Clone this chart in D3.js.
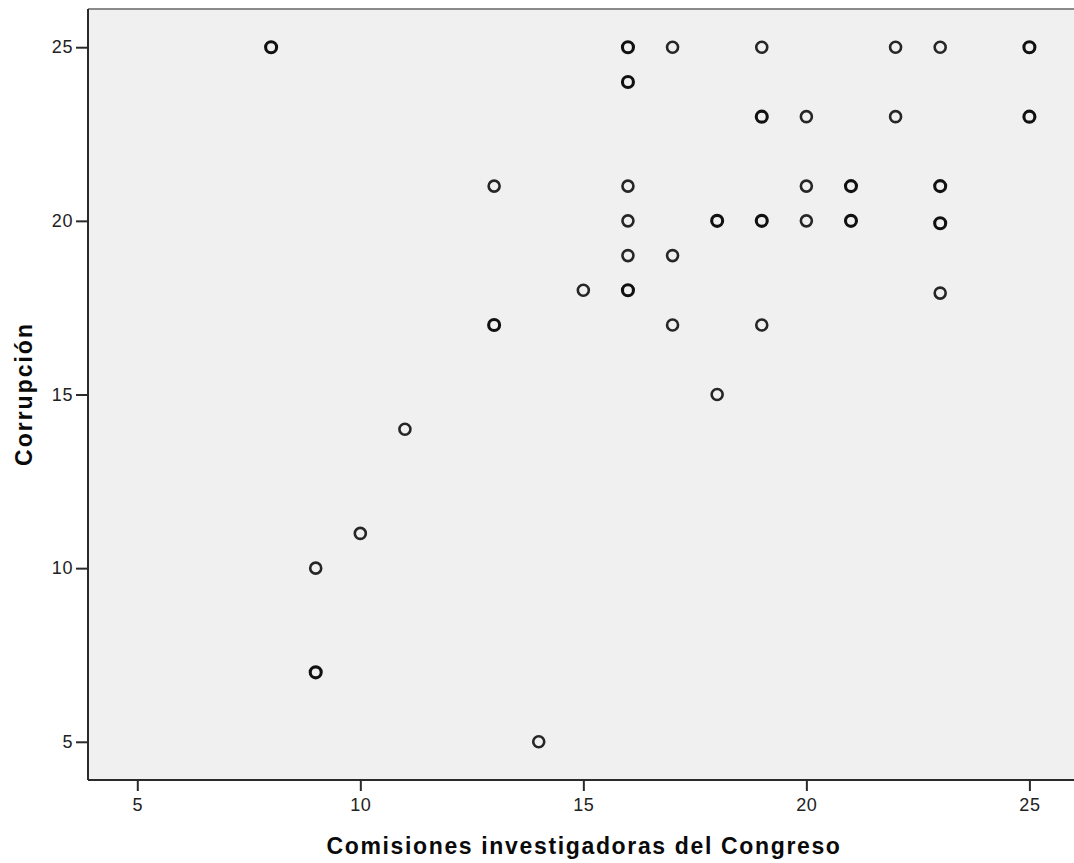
<!DOCTYPE html>
<html>
<head>
<meta charset="utf-8">
<script src="https://cdn.jsdelivr.net/npm/d3@7"></script>
<style>
  html, body { margin: 0; padding: 0; background: #ffffff; }
  svg { display: block; }
  .tick text { font-family: "Liberation Sans", Arial, sans-serif; font-size: 18px; fill: #222; letter-spacing: 0.6px; }
  .title { font-family: "Liberation Sans", Arial, sans-serif; font-weight: bold; font-size: 23px; fill: #0a0a0a; }
</style>
</head>
<body>
<script>
// Data
const xValues = [8, 9, 9, 10, 11, 13, 13, 14, 15, 16, 16, 16, 16, 16, 16, 17, 17, 17, 18, 18, 19, 19, 19, 19, 20, 20, 20, 21, 21, 22, 22, 23, 23, 23, 23, 25, 25];
const yValues = [25, 10, 7, 11, 14, 21, 17, 5, 18, 25, 24, 21, 20, 19, 18, 25, 19, 17, 20, 15, 25, 23, 20, 17, 23, 21, 20, 21, 20, 25, 23, 25, 21, 19.93, 17.92, 25, 23];
// number of overlapping cases at each point (overlaps render darker)
const caseCounts = [2, 1, 2, 1, 1, 1, 2, 1, 1, 2, 2, 1, 1, 1, 2, 1, 1, 1, 2, 1, 1, 2, 2, 1, 1, 1, 1, 2, 2, 1, 1, 1, 2, 2, 1, 2, 2];
const xTicks = [5, 10, 15, 20, 25];
const yTicks = [5, 10, 15, 20, 25];
const xLabel = "Comisiones investigadoras del Congreso";
const yLabel = "Corrupción";

const W = 1074, H = 863;
const plot = { left: 88, top: 9, right: 1074, bottom: 780 };

const svg = d3.select("body").append("svg").attr("width", W).attr("height", H);

const x = d3.scaleLinear().domain([3.895, 26.0]).range([plot.left, plot.right]);
const y = d3.scaleLinear().domain([3.9, 26.1]).range([plot.bottom, plot.top]);

// plot background
svg.append("rect")
  .attr("x", plot.left).attr("y", plot.top)
  .attr("width", plot.right - plot.left).attr("height", plot.bottom - plot.top)
  .attr("fill", "#f0f0f0");

// top border
svg.append("line")
  .attr("x1", plot.left).attr("x2", plot.right)
  .attr("y1", plot.top).attr("y2", plot.top)
  .attr("stroke", "#8a8a8a").attr("stroke-width", 2);

// axes
const xAxis = svg.append("g")
  .attr("transform", `translate(0,${plot.bottom})`)
  .call(d3.axisBottom(x).tickValues(xTicks).tickSize(11).tickPadding(7).tickFormat(d3.format("d")));
const yAxis = svg.append("g")
  .attr("transform", `translate(${plot.left},0)`)
  .call(d3.axisLeft(y).tickValues(yTicks).tickSize(12).tickPadding(3).tickFormat(d3.format("d")));

[xAxis, yAxis].forEach(g => {
  g.select(".domain").attr("stroke", "#2a2a2a").attr("stroke-width", 2);
  g.selectAll(".tick line").attr("stroke", "#2a2a2a").attr("stroke-width", 2);
});
// extend domain lines to plot corners
xAxis.select(".domain").attr("d", `M${plot.left},0H${plot.right}`);
yAxis.select(".domain").attr("d", `M0,${plot.top}V${plot.bottom}`);

// points
const pts = xValues.map((v, i) => ({ x: v, y: yValues[i], n: caseCounts[i] }));
svg.append("g").selectAll("circle").data(pts).join("circle")
  .attr("cx", d => x(d.x))
  .attr("cy", d => y(d.y))
  .attr("r", 5.5)
  .attr("fill", "none")
  .attr("stroke", d => d.n > 1 ? "#111" : "#262626")
  .attr("stroke-width", d => d.n > 1 ? 3.1 : 2.6);

// axis titles
svg.append("text").attr("class", "title")
  .attr("x", 584).attr("y", 854)
  .attr("text-anchor", "middle")
  .attr("letter-spacing", "1.65px")
  .text(xLabel);

svg.append("text").attr("class", "title")
  .attr("transform", `translate(32,394) rotate(-90)`)
  .attr("text-anchor", "middle")
  .attr("letter-spacing", "2px")
  .text(yLabel);
</script>
</body>
</html>
